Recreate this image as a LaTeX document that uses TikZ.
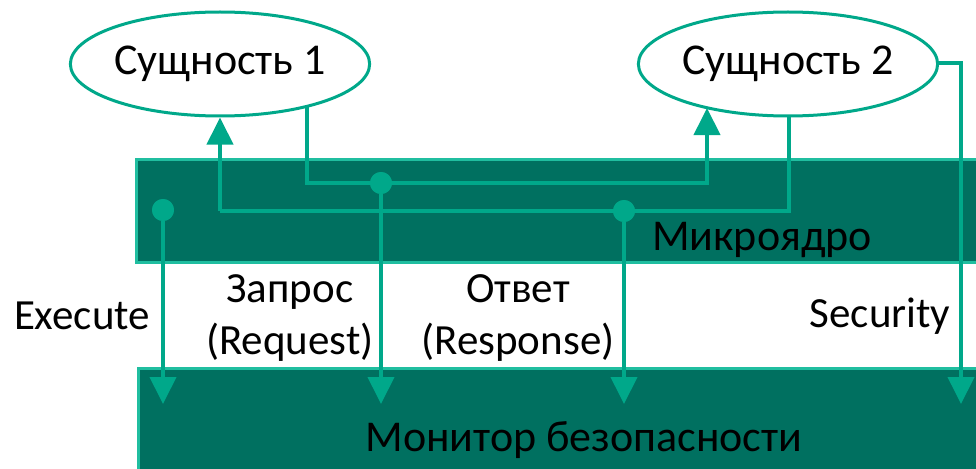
\documentclass[tikz,border=0pt]{standalone}
\usepackage{fontspec}
\setmainfont{Carlito}
\usetikzlibrary{arrows.meta,shapes.geometric}
\definecolor{kgreen}{RGB}{0,112,96}
\definecolor{kline}{RGB}{0,168,138}
\definecolor{kedge}{RGB}{32,190,160}
\tikzset{
  x=1pt, y=-1pt,
  entity/.style={ellipse, draw=kline, line width=3pt, fill=white,
    minimum width=296pt, minimum height=104pt, inner sep=0pt,
    font=\fontsize{44}{50}\selectfont},
  layer/.style={fill=kgreen, draw=kedge, line width=3pt},
  wire/.style={kline, line width=4pt},
  flow/.style={wire, -{Triangle[width=26pt,length=27pt]}},
  junction/.style={circle, fill=kline, inner sep=0pt, minimum size=22pt},
  lbl/.style={font=\fontsize{43}{52}\selectfont, align=center, inner sep=0pt},
}
\begin{document}
\begin{tikzpicture}
\useasboundingbox (0,0) rectangle (976,468);
\clip (0,0) rectangle (976,468);

% layers
\path[layer] (136,159) rectangle (990,262);
\path[layer] (138,368) rectangle (990,480);
\node[lbl, font=\fontsize{44}{50}\selectfont] (mk) at (762,240) {Микроядро};
\node[lbl, font=\fontsize{44}{50}\selectfont] (mon) at (584,440) {Монитор безопасности};

% routing points
\coordinate (a0) at (307,80);
\coordinate (a1) at (307,183);
\coordinate (a2) at (707,183);
\coordinate (a3) at (707,108);
\coordinate (b0) at (789,80);
\coordinate (b1) at (789,211);
\coordinate (b2) at (220,211);
\coordinate (s0) at (900,63);
\coordinate (s1) at (961,63);
\coordinate (t1) at (381,404);
\coordinate (t2) at (624,404);
\coordinate (t3) at (163,404);
\coordinate (t4) at (961,404);

% request: entity 1 -> entity 2
\draw[flow] (a0) -- (a1) -- (a2) -- (a3);
% response: entity 2 -> entity 1
\draw[wire] (b0) -- (b1) -- (b2);
% security channel from entity 2
\draw[flow] (s0) -- (s1) -- (t4);

% entities (drawn over the wire starts)
\node[entity] (e1) at (220,64) {Сущность 1};
\node[entity] (e2) at (788,64) {Сущность 2};
\draw[flow] (b2) -- (e1.south);

% taps into the security monitor
\node[junction] (j1) at (381,183) {};
\node[junction] (j2) at (624,211) {};
\node[junction] (j3) at (163,210) {};
\draw[flow] (j1) -- (t1);
\draw[flow] (j2) -- (t2);
\draw[flow] (j3) -- (t3);
\node[junction] at (j1) {};
\node[junction] at (j2) {};
\node[junction] at (j3) {};

% labels
\node[lbl] (lx) at (82,316) {Execute};
\node[lbl] (lq) at (290,318) {Запрос\\(Request)};
\node[lbl] (lr) at (518,318) {Ответ\\(Response)};
\node[lbl] (ls) at (880,316) {Security};
\end{tikzpicture}
\end{document}
